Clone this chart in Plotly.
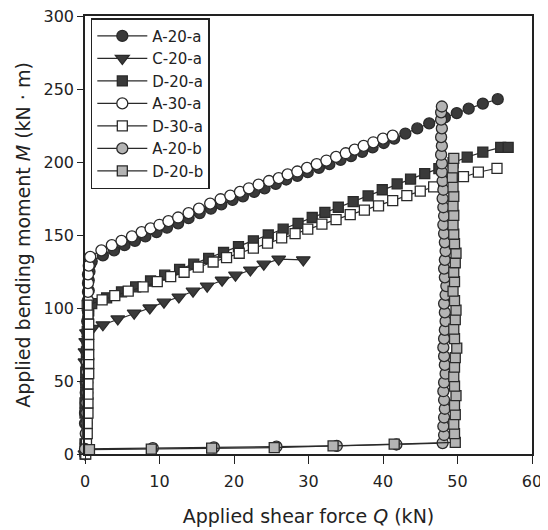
import plotly.graph_objects as go

# ---------------- data ----------------
names = ["A-20-a", "C-20-a", "D-20-a", "A-30-a", "D-30-a", "A-20-b", "D-20-b"]

# A-20-a : moment first (vertical at Q~0), then shear
q_a20a = [0.0, -0.1, -0.1, 0.0, 0.0, 0.1, 0.1, 0.1, 0.2, 0.2, 0.2, 0.3, 0.3, 0.3, 0.4, 0.4, 0.5, 0.5, 0.6, 0.7,
          0.9, 2.4, 3.9, 5.3, 6.7, 8.1, 9.6, 11.0, 12.5, 13.9, 15.4, 16.9, 18.3, 19.8, 21.2, 22.7, 24.1, 25.6,
          27.0, 28.5, 29.9, 31.4, 32.8, 34.3, 35.7, 37.2, 38.6, 40.1, 41.5, 43.0, 44.6, 46.2, 48.3, 49.9, 51.5,
          53.4, 55.4]
m_a20a = [0, 7, 14, 21, 28, 35, 42, 49, 56, 63, 70, 77, 84, 91, 98, 105, 112, 119, 125, 130,
          132, 136, 139.5, 143, 146, 149, 152, 155, 158, 161.5, 165, 168, 171, 174, 176.5, 179.5, 182, 185,
          188, 190.5, 193, 196, 198.5, 201.5, 204, 207, 210, 213, 216, 219.5, 223, 226.5, 230.5, 233.5, 236.5,
          240, 243]

# C-20-a
q_c20a = [0.0, -0.2, -0.3, -0.3, -0.3, -0.2, -0.2, -0.1, -0.1, 0.0, 0.0, 0.1, 0.2,
          1.0, 2.4, 4.4, 6.6, 8.7, 10.6, 12.6, 14.5, 16.4, 18.4, 20.2, 22.2, 24.0, 26.0, 29.3]
m_c20a = [0, 7, 14, 21, 28, 35, 42, 49, 56, 63, 70, 77, 83,
          86, 88.5, 92.5, 96.5, 100, 104, 107.5, 111.5, 115, 119, 122.5, 126, 130, 133.5, 133]

# D-20-a
q_d20a = [0.0, 0.0, -0.1, -0.1, 0.0, 0.0, 0.1, 0.1, 0.1, 0.2, 0.2, 0.3, 0.3, 0.4, 0.5,
          0.9, 2.9, 4.9, 6.8, 8.8, 10.7, 12.7, 14.6, 16.6, 18.6, 20.6, 22.6, 24.6, 26.6, 28.6, 30.5,
          32.2, 34.0, 36.0, 38.0, 39.9, 41.9, 43.7, 45.6, 47.5, 49.4, 51.3, 53.4, 55.8, 56.8]
m_d20a = [0, 7, 14, 21, 28, 35, 42, 49, 56, 63, 70, 77, 84, 91, 98,
          103, 107, 111, 114.5, 118.5, 122.5, 126.5, 130, 134, 138, 142, 146, 150, 154, 158, 162,
          165.5, 169, 172.8, 176.8, 181, 185, 188.3, 192, 195.5, 199.5, 203.4, 206.8, 210, 210]

# A-30-a
q_a30a = [0.0, 0.1, 0.1, 0.2, 0.2, 0.2, 0.3, 0.3, 0.3, 0.3, 0.4, 0.4, 0.4, 0.4, 0.4, 0.4, 0.4, 0.4, 0.4, 0.5,
          0.7, 2.2, 3.6, 4.9, 6.3, 7.6, 8.8, 10.0, 11.2, 12.5, 13.9, 15.3, 16.8, 18.2, 19.5, 20.8, 22.0, 23.3,
          24.7, 26.0, 27.2, 28.5, 29.8, 31.1, 32.4, 33.7, 35.0, 36.2, 37.4, 38.7, 40.0, 41.3]
m_a30a = [0, 7, 14, 21, 28, 35, 42, 49, 56, 63, 70, 77, 84, 91, 98, 105, 111, 117, 123, 129,
          135, 139.5, 143, 146, 149, 152, 154.5, 157, 159.5, 162, 165, 168, 171.5, 174.5, 177, 179.5, 182, 184.5,
          187, 189, 191.5, 193.5, 196, 198.5, 201, 203.5, 206, 208.5, 211, 213.5, 216, 218]

# D-30-a
q_d30a = [0.1, 0.2, 0.3, 0.3, 0.4, 0.4, 0.4, 0.4, 0.5, 0.5, 0.5, 0.5, 0.5, 0.5, 0.4,
          0.3, 2.3, 4.0, 5.8, 7.8, 9.7, 11.5, 13.3, 15.2, 17.2, 19.0, 20.7, 22.6, 24.5, 26.4, 28.2, 29.9,
          31.8, 33.7, 35.6, 37.5, 39.4, 41.3, 43.2, 45.0, 46.8, 48.7, 50.8, 52.8, 55.3]
m_d30a = [0, 7, 14, 21, 28, 35, 41, 48, 55, 62, 68, 75, 82, 89, 96,
          102, 105.5, 108.5, 111.5, 114.5, 118, 121.5, 124.5, 128, 131.5, 134.5, 137.5, 141, 144.5, 148, 151, 154,
          157.5, 160.5, 164, 167, 170, 173.5, 177, 180, 183, 186.5, 190, 193, 195.7]

# A-20-b : shear first (near-horizontal), then moment (vertical at Q~48)
q_a20b = [0.0, 9.1, 17.3, 25.7, 33.8, 41.8, 48.0,
          48.2, 48.1, 48.2, 48.3, 48.2, 48.1, 48.2, 48.4, 48.3, 48.2, 48.1, 48.2, 48.3, 48.4, 48.3, 48.2,
          48.4, 48.5, 48.3, 48.2, 48.3, 48.4, 48.3, 48.2, 48.1, 48.2, 48.1, 48.0, 48.1, 48.0, 47.9, 47.9,
          47.8, 47.9, 47.8, 47.9, 47.8, 47.8, 47.9]
m_a20b = [3.5, 4.0, 4.5, 5.0, 5.5, 6.5, 7.5,
          13, 19, 25, 31, 37, 43, 49, 55, 61, 67, 73, 79, 85, 91, 97, 103,
          109, 115, 121, 127, 133, 139, 145, 151, 157, 163, 169, 175, 181, 187, 193, 199,
          205, 211, 217, 223, 229, 234, 238]

# D-20-b
q_d20b = [0.6, 8.9, 17.0, 25.4, 33.3, 41.5, 49.7,
          49.6, 49.5, 49.7, 49.6, 49.8, 49.6, 49.5, 49.6, 49.7, 49.9, 49.6, 49.5, 49.7, 49.8, 49.6,
          49.4, 49.6, 49.5, 49.7, 49.8, 49.6, 49.5, 49.4, 49.5, 49.4, 49.5, 49.4, 49.3, 49.4, 49.5]
m_d20b = [3.0, 3.4, 4.0, 4.3, 5.5, 6.8, 8.0,
          14, 20.5, 27, 33.5, 40, 46.5, 53, 59.5, 66, 72.5, 79, 85.5, 92, 98.5, 105,
          111.5, 118, 124.5, 131, 137.5, 144, 150.5, 157, 163.5, 170, 176.5, 183, 189.5, 196, 202.5]

x_ticks = [0, 10, 20, 30, 40, 50, 60]
y_ticks = [0, 50, 100, 150, 200, 250, 300]

# ---------------- styling ----------------
DARK = "#3a3a3a"
EDGE = "#2a2a2a"
GRAY = "#b4b4b4"
FONT = "DejaVu Sans"

series = [
    (names[0], q_a20a, m_a20a, "circle", DARK, 11),
    (names[1], q_c20a, m_c20a, "triangle-down", DARK, 12),
    (names[2], q_d20a, m_d20a, "square", DARK, 10),
    (names[3], q_a30a, m_a30a, "circle", "white", 11),
    (names[4], q_d30a, m_d30a, "square", "white", 10),
    (names[5], q_a20b, m_a20b, "circle", GRAY, 11),
    (names[6], q_d20b, m_d20b, "square", GRAY, 10),
]

fig = go.Figure()
for name, q, m, sym, fill, size in series:
    fig.add_trace(go.Scatter(
        x=q, y=m, name=name, mode="lines+markers",
        line=dict(color=EDGE, width=1.2),
        marker=dict(symbol=sym, size=size, color=fill,
                    line=dict(color=EDGE, width=1.3)),
        cliponaxis=False,
    ))

# the page body adds an 8 px offset, so the figure is sized 540x522
fig.update_layout(
    width=540, height=522,
    margin=dict(l=77, r=16, t=8, b=76, autoexpand=False),
    paper_bgcolor="white", plot_bgcolor="white",
    font=dict(family=FONT, size=16, color="#222"),
    showlegend=True,
    legend=dict(x=0.013, y=0.995, xanchor="left", yanchor="top",
                bgcolor="white", bordercolor="#222", borderwidth=1.5,
                font=dict(family=FONT, size=15, color="#222"),
                itemwidth=50),
)
fig.update_xaxes(
    range=[0, 60], tickvals=x_ticks, ticktext=[str(v) for v in x_ticks],
    automargin=False, ticklabeloverflow="allow",
    showgrid=False, zeroline=False, showline=True, linecolor="#222", linewidth=1.5,
    mirror=True, ticks="outside", ticklen=8, tickcolor="#222", tickwidth=1.2,
    ticklabelstandoff=4,
    tickfont=dict(family=FONT, size=16, color="#222"),
    title=dict(text="Applied shear force <i>Q</i> (kN)", standoff=20,
               font=dict(family=FONT, size=19, color="#222")),
)
fig.update_yaxes(
    range=[0, 300], tickvals=y_ticks, ticktext=[str(v) for v in y_ticks],
    automargin=False, ticklabeloverflow="allow",
    showgrid=False, zeroline=False, showline=True, linecolor="#222", linewidth=1.5,
    mirror=True, ticks="outside", ticklen=6, tickcolor="#222", tickwidth=1.2,
    tickfont=dict(family=FONT, size=16, color="#222"),
    title=dict(text="Applied bending moment <i>M</i> (kN · m)", standoff=8,
               font=dict(family=FONT, size=19, color="#222")),
)

fig.write_html("out.html")
